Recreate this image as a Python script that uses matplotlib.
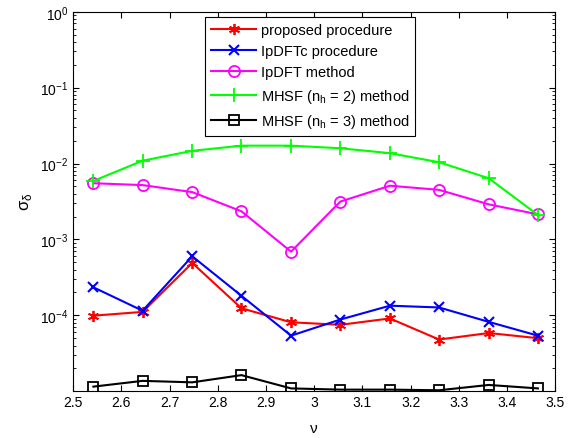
import numpy as np
import matplotlib
matplotlib.use("Agg")
import matplotlib.pyplot as plt
from matplotlib.ticker import FixedLocator, LogLocator, NullLocator, FormatStrFormatter

plt.rcParams['font.family'] = ['Liberation Sans', 'DejaVu Sans']
plt.rcParams['mathtext.fontset'] = 'custom'
plt.rcParams['mathtext.rm'] = 'Liberation Sans'
plt.rcParams['font.size'] = 10

# frequency values
nu = [2.542, 2.644, 2.747, 2.849, 2.952, 3.054, 3.157, 3.259, 3.362, 3.464]

proposed = [9.9e-5, 1.11e-4, 4.9e-4, 1.24e-4, 8.1e-5, 7.5e-5, 9.1e-5, 4.8e-5, 5.85e-5, 5.0e-5]
ipdftc = [2.34e-4, 1.15e-4, 6.0e-4, 1.81e-4, 5.4e-5, 8.8e-5, 1.34e-4, 1.27e-4, 8.2e-5, 5.4e-5]
ipdft = [5.5e-3, 5.2e-3, 4.2e-3, 2.35e-3, 6.9e-4, 3.15e-3, 5.1e-3, 4.5e-3, 2.9e-3, 2.14e-3]
mhsf2 = [5.9e-3, 1.09e-2, 1.47e-2, 1.72e-2, 1.72e-2, 1.59e-2, 1.37e-2, 1.04e-2, 6.4e-3, 2.1e-3]
mhsf3 = [1.15e-5, 1.37e-5, 1.31e-5, 1.63e-5, 1.09e-5, 1.05e-5, 1.05e-5, 1.03e-5, 1.21e-5, 1.09e-5]

labels = ['proposed procedure', 'IpDFTc procedure', 'IpDFT method',
          'MHSF (n$_\\mathregular{h}$ = 2) method', 'MHSF (n$_\\mathregular{h}$ = 3) method']

fig = plt.figure(figsize=(5.76, 4.39), dpi=100)
ax = fig.add_axes([0.127, 0.108, 0.837, 0.863])

lw = 1.5
ax.semilogy(nu, proposed, color='#ff0000', lw=lw, marker=(6, 2, 0), ms=8, mew=1.3, label=labels[0])
ax.semilogy(nu, ipdftc, color='#0000ff', lw=lw, marker='x', ms=7, mew=1.5, label=labels[1])
ax.semilogy(nu, ipdft, color='#ff00ff', lw=lw, marker='o', ms=8, mfc='none', mew=1.3, label=labels[2])
ax.semilogy(nu, mhsf2, color='#00ff00', lw=lw, marker='+', ms=10, mew=1.3, label=labels[3])
ax.semilogy(nu, mhsf3, color='black', lw=lw, marker='s', ms=7, mfc='none', mew=1.3, label=labels[4])

ax.set_xlim(2.5, 3.5)
ax.set_ylim(1.02e-5, 1)
ax.xaxis.set_major_locator(FixedLocator(np.arange(2.5, 3.51, 0.1)))
ax.xaxis.set_major_formatter(FormatStrFormatter('%g'))
ax.xaxis.set_minor_locator(NullLocator())
ax.yaxis.set_major_locator(FixedLocator([1e-4, 1e-3, 1e-2, 1e-1, 1]))
ax.yaxis.set_minor_locator(LogLocator(base=10, subs=np.arange(2, 10), numticks=20))
ax.tick_params(which='both', direction='in', top=True, right=True)
ax.tick_params(which='major', length=4)
ax.tick_params(which='minor', length=2.5)
for s in ax.spines.values():
    s.set_linewidth(0.8)

ax.set_xlabel('ν', fontsize=11, labelpad=8)
ax.set_ylabel('σ$_\\mathregular{δ}$', fontsize=12)

leg = ax.legend(loc='upper left', bbox_to_anchor=(0.274, 0.986), fancybox=False,
                edgecolor='black', framealpha=1, fontsize=10.5, handlelength=3.1,
                handletextpad=0.3, borderaxespad=0, labelspacing=0.5, borderpad=0.4)
leg.get_frame().set_linewidth(0.8)

fig.savefig('out.png', dpi=100)
